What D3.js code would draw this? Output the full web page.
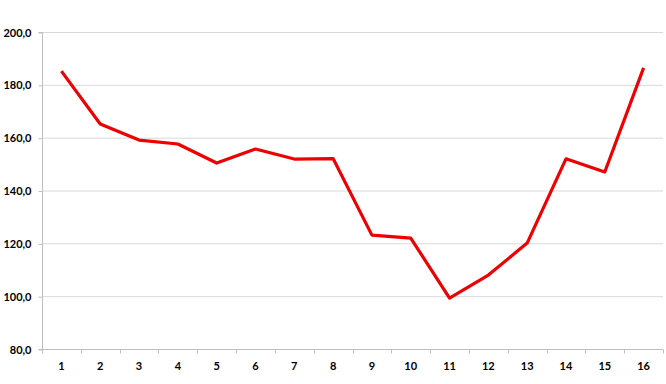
<!DOCTYPE html>
<html>
<head>
<meta charset="utf-8">
<script src="https://cdn.jsdelivr.net/npm/d3@7"></script>
<style>
  body { margin: 0; background: #fff; }
  text { font-family: Lato, "Open Sans", sans-serif; font-weight: bold; font-size: 11px; fill: #000; }
</style>
</head>
<body>
<svg id="chart"></svg>
<script>
// Constant Values
const width = 666;
const height = 384;
const margin = { top: 32, right: 3, bottom: 35, left: 42 };

// Data
const categories = ["1", "2", "3", "4", "5", "6", "7", "8", "9", "10", "11", "12", "13", "14", "15", "16"];
const values = [185.2, 165.2, 159.1, 157.6, 150.4, 155.7, 151.9, 152.1, 123.1, 122.0, 99.3, 108.0, 120.1, 152.0, 147.0, 186.4];
const yTicks = [80, 100, 120, 140, 160, 180, 200];

const svg = d3.select("#chart")
    .attr("width", width)
    .attr("height", height);

// Scales
const xScale = d3.scaleBand()
    .domain(categories)
    .range([margin.left, width - margin.right]);

const yScale = d3.scaleLinear()
    .domain([80, 200])
    .range([height - margin.bottom, margin.top]);

// Gridlines
svg.append("g")
    .selectAll("line")
    .data(yTicks.slice(1))
    .enter()
    .append("line")
    .attr("x1", margin.left)
    .attr("x2", width - margin.right)
    .attr("y1", d => yScale(d) + 0.5)
    .attr("y2", d => yScale(d) + 0.5)
    .attr("stroke", "#d9d9d9")
    .attr("stroke-width", 1);

// Y axis
const yAxis = d3.axisLeft(yScale)
    .tickValues(yTicks)
    .tickSize(4)
    .tickPadding(7)
    .tickFormat(d => d3.format(".1f")(d).replace(".", ","));

svg.append("g")
    .attr("id", "y-axis")
    .attr("transform", `translate(${margin.left + 0.5}, 0.5)`)
    .call(yAxis)
    .call(g => g.selectAll("line, path").attr("stroke", "#bfbfbf"))
    .call(g => g.select(".domain").attr("d", `M-4,${yScale(200)}H0V${yScale(80)}H-4`));

// X axis: ticks at band boundaries
const xAxisG = svg.append("g")
    .attr("id", "x-axis")
    .attr("transform", `translate(0, ${yScale(80) + 0.5})`);

xAxisG.append("line")
    .attr("x1", margin.left)
    .attr("x2", width - margin.right)
    .attr("stroke", "#bfbfbf");

const boundaries = categories.map(c => xScale(c)).concat([xScale.range()[1]]);
xAxisG.selectAll(".btick")
    .data(boundaries)
    .enter()
    .append("line")
    .attr("class", "btick")
    .attr("x1", d => Math.round(d) + 0.5)
    .attr("x2", d => Math.round(d) + 0.5)
    .attr("y1", 0)
    .attr("y2", 4)
    .attr("stroke", "#bfbfbf");

xAxisG.selectAll(".xlabel")
    .data(categories)
    .enter()
    .append("text")
    .attr("class", "xlabel")
    .attr("x", d => xScale(d) + xScale.bandwidth() / 2)
    .attr("y", 17)
    .attr("dy", "0.35em")
    .attr("text-anchor", "middle")
    .text(d => d);

// Line
const line = d3.line()
    .x((d, i) => xScale(categories[i]) + xScale.bandwidth() / 2)
    .y(d => yScale(d));

svg.append("path")
    .datum(values)
    .attr("fill", "none")
    .attr("stroke", "#ee0000")
    .attr("stroke-width", 3.2)
    .attr("stroke-linejoin", "round")
    .attr("d", line);
</script>
</body>
</html>
